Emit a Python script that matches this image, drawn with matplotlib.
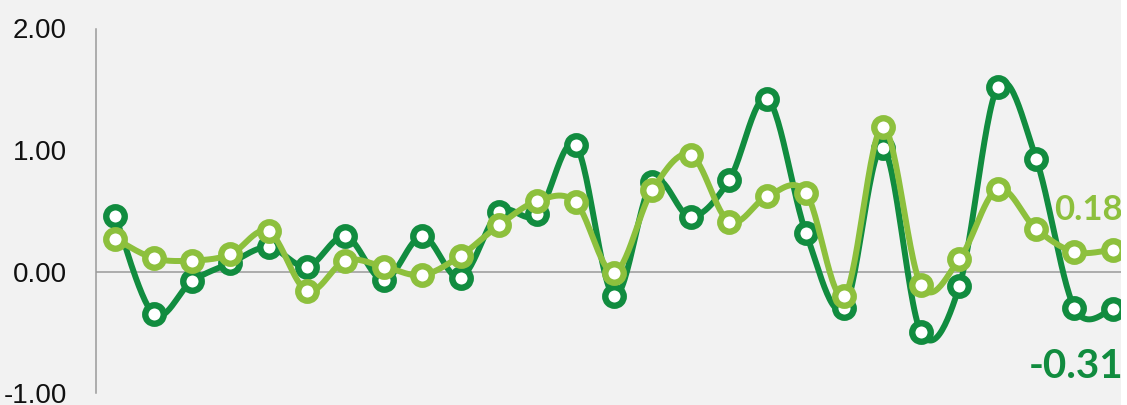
import numpy as np
import matplotlib
matplotlib.use("Agg")
import matplotlib.pyplot as plt
from matplotlib import font_manager as fm
from matplotlib.patches import Rectangle

# ---- data ----
categories = list(range(1, 28))
series_dark = [0.46, -0.35, -0.08, 0.07, 0.20, 0.04, 0.29, -0.07, 0.29, -0.05,
               0.49, 0.47, 1.04, -0.20, 0.74, 0.45, 0.75, 1.42, 0.32, -0.30,
               1.02, -0.50, -0.12, 1.52, 0.93, -0.30, -0.31]
series_light = [0.27, 0.11, 0.09, 0.14, 0.33, -0.16, 0.09, 0.04, -0.03, 0.13,
                0.38, 0.58, 0.57, -0.01, 0.67, 0.96, 0.41, 0.62, 0.65, -0.20,
                1.19, -0.11, 0.10, 0.68, 0.35, 0.16, 0.18]
yticks = [-1.0, 0.0, 1.0, 2.0]
ytick_labels = ["-1.00", "0.00", "1.00", "2.00"]

DARK = "#118C3F"
LIGHT = "#8DC03D"
BG = "#F2F2F2"

ttf = fm.fontManager.ttflist
names = {f.name for f in ttf}
tick_font = "Liberation Sans Narrow" if "Liberation Sans Narrow" in names else "Liberation Sans"
tick_size = 22 if tick_font == "Liberation Sans Narrow" else 20


def has_bold(fam):
    return any(f.name == fam and (f.weight in ("bold", 700) or str(f.weight) == "700") for f in ttf)


label_font = "DejaVu Sans"
for fam in ["Lato", "Open Sans", "Noto Sans", "Liberation Sans"]:
    if has_bold(fam):
        label_font = fam
        break


def smooth(x, y, n=30):
    """Bezier smoothing (Catmull-Rom style, as in Excel smoothed lines)."""
    x = np.asarray(x, float)
    y = np.asarray(y, float)
    P = np.column_stack([x, y])
    out = [P[0]]
    for i in range(len(P) - 1):
        p0 = P[i - 1] if i > 0 else P[i]
        p1 = P[i]
        p2 = P[i + 1]
        p3 = P[i + 2] if i + 2 < len(P) else P[i + 1]
        c1 = p1 + (p2 - p0) / 6.0
        c2 = p2 - (p3 - p1) / 6.0
        t = np.linspace(0, 1, n)[1:, None]
        seg = ((1 - t) ** 3) * p1 + 3 * ((1 - t) ** 2) * t * c1 + 3 * (1 - t) * t ** 2 * c2 + t ** 3 * p2
        out.extend(seg)
    out = np.array(out)
    return out[:, 0], out[:, 1]


W, H = 1127, 405
fig = plt.figure(figsize=(W / 100, H / 100), dpi=100, facecolor=BG)
left_px, right_px = 96, 1132
top_px, bot_px = 28.5, 393
ax = fig.add_axes([left_px / W, (H - bot_px) / H, (right_px - left_px) / W, (bot_px - top_px) / H])
ax.set_facecolor(BG)

x = np.arange(len(categories))
ax.set_xlim(-0.5, len(categories) - 0.5)
ax.set_ylim(-1.0, 2.0)

ax.axhline(0, color="#9a9a9a", lw=1.1, zorder=1)

for vals, col, z in [(series_dark, DARK, 3), (series_light, LIGHT, 4)]:
    sx, sy = smooth(x, vals)
    ax.plot(sx, sy, color=col, lw=4.3, solid_capstyle="round", zorder=z, clip_on=False)
    ax.plot(x, vals, ls="none", marker="o", ms=13.3, mew=4.6, mec=col, mfc="white",
            zorder=z + 0.5, clip_on=False)

for s in ["top", "right", "bottom"]:
    ax.spines[s].set_visible(False)
ax.spines["left"].set_color("#9a9a9a")
ax.spines["left"].set_linewidth(1.1)
ax.set_xticks([])
ax.set_yticks(yticks)
ax.set_yticklabels(ytick_labels, fontfamily=tick_font, fontsize=tick_size, color="#111111")
ax.tick_params(axis="y", length=0, pad=21)

# end-value labels
ax.annotate(f"{series_light[-1]:.2f}", xy=(x[-1], series_light[-1]), xytext=(7.5, 28.5),
            textcoords="offset points", ha="right", va="center", color=LIGHT,
            fontsize=25, fontweight="bold", fontfamily=label_font, zorder=6,
            annotation_clip=False)
ax.annotate(f"{series_dark[-1]:.2f}", xy=(x[-1], series_dark[-1]), xytext=(7.5, -41.5),
            textcoords="offset points", ha="right", va="center", color=DARK,
            fontsize=29, fontweight="bold", fontfamily=label_font, zorder=6,
            annotation_clip=False)

# white strip at the right edge
fig.patches.append(Rectangle((1121 / W, 0), 1, 1, transform=fig.transFigure,
                             facecolor="white", edgecolor="none", zorder=10))

fig.savefig("out.png", dpi=100, facecolor=BG)
